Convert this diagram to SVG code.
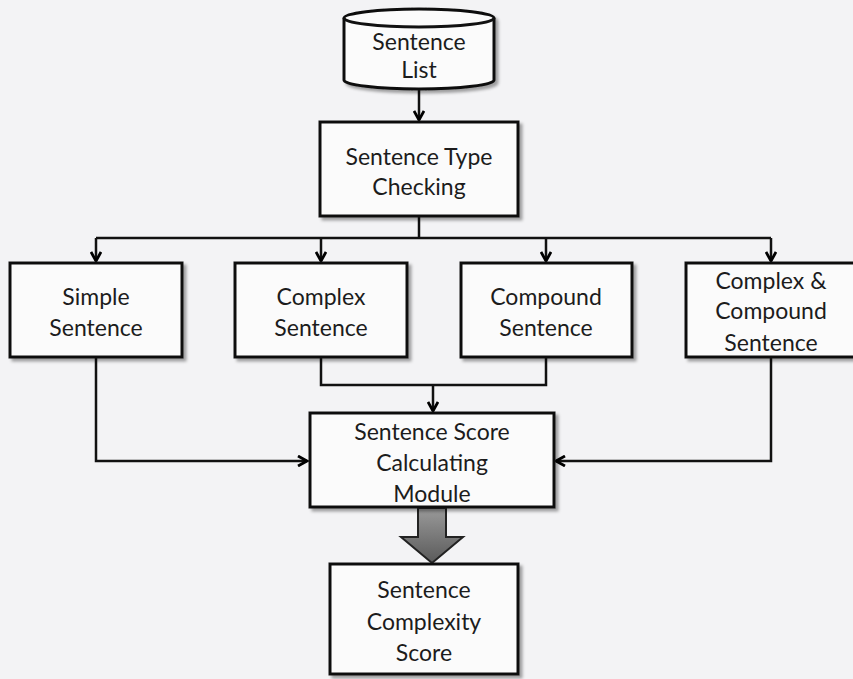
<svg xmlns="http://www.w3.org/2000/svg" width="853" height="679" viewBox="0 0 853 679">
  <defs>
    <filter id="shadow" x="-10%" y="-10%" width="125%" height="125%">
      <feDropShadow dx="3" dy="3" stdDeviation="1.5" flood-color="#000" flood-opacity="0.35"/>
    </filter>
    <marker id="arrow" markerWidth="12" markerHeight="12" refX="10" refY="6" orient="auto" markerUnits="userSpaceOnUse">
      <path d="M1,1 L10,6 L1,11" fill="none" stroke="#000" stroke-width="2.8" stroke-linejoin="miter"/>
    </marker>
    <linearGradient id="blockFill" x1="0" y1="0" x2="0" y2="1">
      <stop offset="0" stop-color="#9a9a9a"/>
      <stop offset="1" stop-color="#5a5a5a"/>
    </linearGradient>
  </defs>
  <style>
    .box { fill: #fbfbfb; stroke: #111; stroke-width: 3; filter: url(#shadow); }
    .label { font-family: Lato, "Open Sans", "Liberation Sans", sans-serif; font-size: 23px; fill: #1c1c1c; text-anchor: middle; }
    .wire { fill: none; stroke: #111; stroke-width: 2.5; }
  </style>

  <rect width="853" height="679" fill="#f3f3f5"/>

  <!-- connectors -->
  <g id="connectors">
    <line class="wire" x1="419" y1="89" x2="419" y2="120" marker-end="url(#arrow)"/>
    <polyline class="wire" points="419,216 419,238"/>
    <polyline class="wire" points="96,238 771,238"/>
    <line class="wire" x1="96" y1="238" x2="96" y2="261" marker-end="url(#arrow)"/>
    <line class="wire" x1="321" y1="238" x2="321" y2="261" marker-end="url(#arrow)"/>
    <line class="wire" x1="546" y1="238" x2="546" y2="261" marker-end="url(#arrow)"/>
    <line class="wire" x1="771" y1="238" x2="771" y2="261" marker-end="url(#arrow)"/>
    <polyline class="wire" points="96,357 96,461 307,461" marker-end="url(#arrow)"/>
    <polyline class="wire" points="771,357 771,461 556,461" marker-end="url(#arrow)"/>
    <polyline class="wire" points="321,357 321,385 546,385 546,357"/>
    <line class="wire" x1="433" y1="385" x2="433" y2="411" marker-end="url(#arrow)"/>
    <!-- block arrow to final score -->
    <path d="M418,508 L446,508 L446,537 L463,537 L432,563 L401,537 L418,537 Z" fill="url(#blockFill)" stroke="#222" stroke-width="2"/>
  </g>

  <!-- Sentence List (data store) -->
  <g id="sentence-list">
    <path class="box" d="M344,18 L344,80 A75,9 0 0 0 494,80 L494,18 A75,9 0 0 0 344,18 Z"/>
    <path d="M344,18 A75,9 0 0 0 494,18" fill="none" stroke="#111" stroke-width="3"/>
    <text class="label" x="419" y="50">Sentence</text>
    <text class="label" x="419" y="78">List</text>
  </g>

  <g id="type-checking">
    <rect class="box" x="320" y="122" width="198" height="94"/>
    <text class="label" x="419" y="165">Sentence Type</text>
    <text class="label" x="419" y="195">Checking</text>
  </g>

  <g id="simple">
    <rect class="box" x="10" y="263" width="172" height="94"/>
    <text class="label" x="96" y="305">Simple</text>
    <text class="label" x="96" y="336">Sentence</text>
  </g>

  <g id="complex">
    <rect class="box" x="235" y="263" width="172" height="94"/>
    <text class="label" x="321" y="305">Complex</text>
    <text class="label" x="321" y="336">Sentence</text>
  </g>

  <g id="compound">
    <rect class="box" x="461" y="263" width="171" height="94"/>
    <text class="label" x="546" y="305">Compound</text>
    <text class="label" x="546" y="336">Sentence</text>
  </g>

  <g id="complex-compound">
    <rect class="box" x="686" y="263" width="170" height="94"/>
    <text class="label" x="771" y="289">Complex &amp;</text>
    <text class="label" x="771" y="319">Compound</text>
    <text class="label" x="771" y="351">Sentence</text>
  </g>

  <g id="score-module">
    <rect class="box" x="310" y="413" width="244" height="94"/>
    <text class="label" x="432" y="440">Sentence Score</text>
    <text class="label" x="432" y="471">Calculating</text>
    <text class="label" x="432" y="502">Module</text>
  </g>

  <g id="complexity-score">
    <rect class="box" x="330" y="564" width="188" height="110"/>
    <text class="label" x="424" y="598">Sentence</text>
    <text class="label" x="424" y="630">Complexity</text>
    <text class="label" x="424" y="661">Score</text>
  </g>
</svg>
